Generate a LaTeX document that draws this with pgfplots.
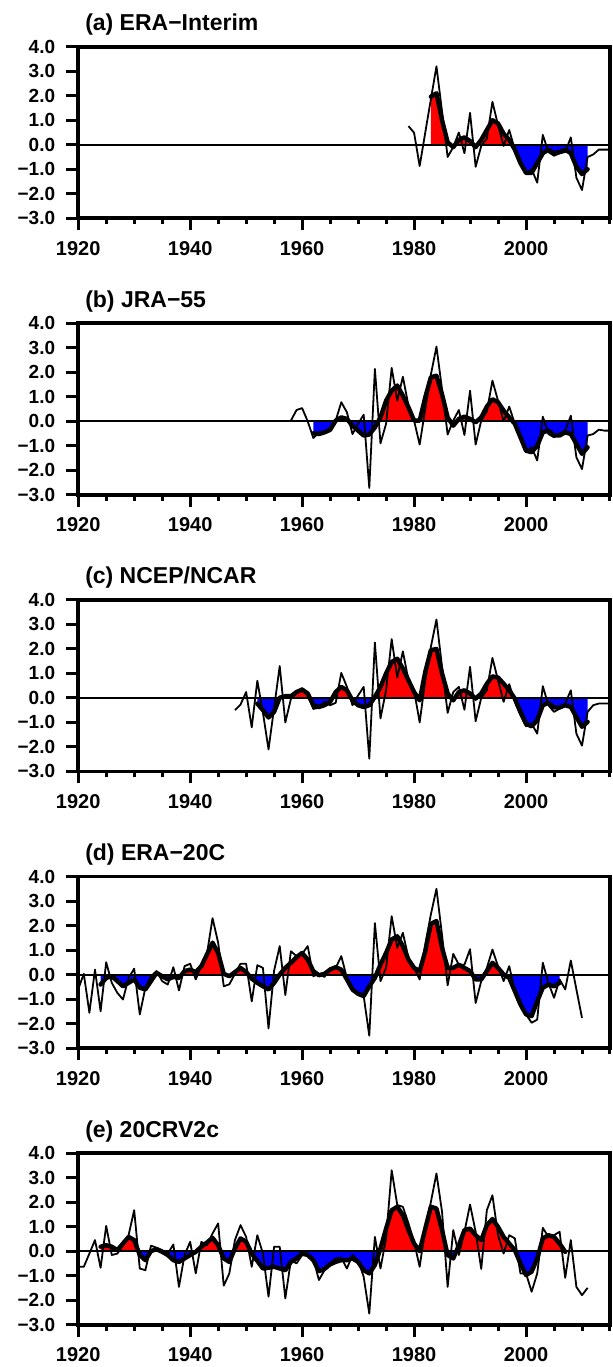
\documentclass[border=0pt]{standalone}
\usepackage{pgfplots}
\pgfplotsset{compat=1.18}
\usepackage{pgfplotstable}
\usepackage{fontspec}
\setmainfont{Liberation Sans}
\definecolor{fred}{RGB}{255,0,0}
\definecolor{fblue}{RGB}{0,0,255}

% ---------------- (a) ERA-Interim
\pgfplotstableread{
x y
1979 0.76
1980 0.49
1981 -0.87
1982 0.5
1983 1.85
1984 3.2
1985 1.35
1986 -0.5
1987 -0.1
1988 0.5
1989 -0.35
1990 1.3
1991 -0.9
1992 -0.05
1993 0.25
1994 1.75
1995 0.8
1996 -0.05
1997 0.6
1998 -0.2
1999 -0.75
2000 -1.2
2001 -1.0
2002 -1.55
2003 0.4
2004 -0.3
2005 -0.45
2006 -0.35
2007 -0.3
2008 0.3
2009 -1.35
2010 -1.85
2011 -0.5
2012 -0.4
2013 -0.2
2014 -0.2
2015 -0.2
}\thinA
\pgfplotstableread{
x y
1983 1.96
1984 2.1
1985 1.0
1986 0.1
1987 -0.1
1988 0.2
1989 0.3
1990 0.15
1991 -0.1
1992 0.2
1993 0.6
1994 1.0
1995 0.87
1996 0.45
1997 0.2
1998 -0.2
1999 -0.75
2000 -1.15
2001 -1.15
2002 -0.75
2003 -0.35
2004 -0.2
2005 -0.35
2006 -0.3
2007 -0.2
2008 -0.35
2009 -0.9
2010 -1.2
2011 -1.0
}\thickA

% ---------------- (b) JRA-55
\pgfplotstableread{
x y
1958 0.03
1959 0.46
1960 0.54
1961 0.0
1962 -0.68
1963 -0.45
1964 -0.45
1965 -0.38
1966 0.03
1967 0.78
1968 0.37
1969 -0.52
1970 -0.1
1971 0.27
1972 -2.72
1973 2.14
1974 -0.9
1975 -0.1
1976 2.18
1977 0.84
1978 1.82
1979 0.64
1980 0.03
1981 -0.95
1982 0.5
1983 1.9
1984 3.05
1985 1.3
1986 -0.54
1987 0.03
1988 0.46
1989 -0.56
1990 1.25
1991 -0.95
1992 0.03
1993 0.4
1994 1.66
1995 0.84
1996 0.0
1997 0.6
1998 -0.1
1999 -0.72
2000 -1.26
2001 -1.06
2002 -1.6
2003 0.19
2004 -0.52
2005 -0.65
2006 -0.5
2007 -0.38
2008 0.23
2009 -1.47
2010 -1.95
2011 -0.58
2012 -0.52
2013 -0.34
2014 -0.38
2015 -0.38
}\thinB
\pgfplotstableread{
x y
1962 -0.49
1963 -0.52
1964 -0.45
1965 -0.35
1966 0.03
1967 0.16
1968 0.1
1969 -0.18
1970 -0.38
1971 -0.58
1972 -0.54
1973 -0.25
1974 0.16
1975 0.84
1976 1.25
1977 1.46
1978 1.05
1979 0.57
1980 0.03
1981 0.03
1982 0.98
1983 1.8
1984 1.86
1985 1.1
1986 0.16
1987 -0.18
1988 0.1
1989 0.19
1990 0.1
1991 -0.04
1992 0.16
1993 0.6
1994 0.9
1995 0.78
1996 0.44
1997 0.16
1998 -0.1
1999 -0.65
2000 -1.2
2001 -1.26
2002 -1.0
2003 -0.45
2004 -0.38
2005 -0.58
2006 -0.58
2007 -0.45
2008 -0.52
2009 -0.92
2010 -1.33
2011 -1.06
}\thickB

% ---------------- (c) NCEP/NCAR
\pgfplotstableread{
x y
1948 -0.5
1949 -0.27
1950 0.24
1951 -1.2
1952 0.7
1953 -0.6
1954 -2.1
1955 -0.4
1956 1.3
1957 -1.0
1958 -0.04
1959 0.2
1960 0.4
1961 0.14
1962 -0.45
1963 -0.4
1964 -0.16
1965 -0.3
1966 -0.2
1967 1.02
1968 0.45
1969 -0.3
1970 0.1
1971 0.45
1972 -2.48
1973 2.26
1974 -0.84
1975 0.31
1976 2.4
1977 0.83
1978 1.9
1979 0.72
1980 0.31
1981 -1.0
1982 0.72
1983 2.08
1984 3.2
1985 1.27
1986 -0.61
1987 0.24
1988 0.45
1989 -0.48
1990 1.27
1991 -0.95
1992 0.0
1993 0.31
1994 1.63
1995 0.72
1996 -0.16
1997 0.56
1998 -0.16
1999 -0.7
2000 -1.16
2001 -1.05
2002 -1.46
2003 0.48
2004 -0.3
2005 -0.57
2006 -0.44
2007 -0.23
2008 0.31
2009 -1.46
2010 -1.95
2011 -0.57
2012 -0.3
2013 -0.23
2014 -0.23
2015 -0.23
}\thinC
\pgfplotstableread{
x y
1952 -0.23
1953 -0.5
1954 -0.8
1955 -0.57
1956 0.01
1957 0.07
1958 0.07
1959 0.24
1960 0.34
1961 0.18
1962 -0.3
1963 -0.37
1964 -0.3
1965 -0.16
1966 0.24
1967 0.45
1968 0.31
1969 -0.1
1970 -0.3
1971 -0.37
1972 -0.3
1973 0.04
1974 0.45
1975 1.0
1976 1.47
1977 1.6
1978 1.2
1979 0.72
1980 0.24
1981 -0.1
1982 1.06
1983 1.95
1984 2.0
1985 1.0
1986 0.18
1987 -0.1
1988 0.24
1989 0.31
1990 0.18
1991 -0.03
1992 0.18
1993 0.58
1994 0.88
1995 0.83
1996 0.58
1997 0.31
1998 -0.03
1999 -0.57
2000 -1.05
2001 -1.16
2002 -0.91
2003 -0.3
2004 -0.2
2005 -0.39
2006 -0.39
2007 -0.3
2008 -0.37
2009 -0.78
2010 -1.18
2011 -0.98
}\thickC

% ---------------- (d) ERA-20C
\pgfplotstableread{
x y
1920 -0.6
1921 0.03
1922 -1.56
1923 0.2
1924 -1.5
1925 0.5
1926 -0.34
1927 -0.75
1928 -1.02
1929 -0.14
1930 0.24
1931 -1.63
1932 -0.54
1933 -0.07
1934 0.14
1935 -0.27
1936 -0.41
1937 0.3
1938 -0.65
1939 0.34
1940 0.44
1941 -0.2
1942 0.37
1943 0.84
1944 2.3
1945 1.3
1946 -0.48
1947 -0.4
1948 0.03
1949 0.44
1950 0.44
1951 -1.1
1952 0.38
1953 0.27
1954 -2.2
1955 0.16
1956 1.16
1957 -0.84
1958 0.95
1959 0.75
1960 0.84
1961 1.16
1962 -0.07
1963 0.03
1964 -0.1
1965 0.27
1966 0.27
1967 0.75
1968 -0.14
1969 -0.68
1970 -0.75
1971 -0.88
1972 -2.5
1973 2.1
1974 -0.27
1975 0.27
1976 2.38
1977 1.09
1978 1.7
1979 0.68
1980 0.27
1981 -0.2
1982 1.22
1983 2.45
1984 3.5
1985 1.6
1986 -0.44
1987 0.84
1988 0.4
1989 0.4
1990 1.03
1991 -1.16
1992 -0.27
1993 0.27
1994 1.02
1995 0.34
1996 -0.27
1997 0.34
1998 -0.68
1999 -1.29
2000 -1.63
2001 -1.97
2002 -1.84
2003 0.48
2004 -0.34
2005 -0.95
2006 -0.2
2007 -0.61
2008 0.57
2009 -0.61
2010 -1.77
}\thinD
\pgfplotstableread{
x y
1924 -0.41
1925 -0.14
1926 -0.07
1927 -0.27
1928 -0.48
1929 -0.34
1930 -0.2
1931 -0.54
1932 -0.61
1933 -0.27
1934 0.07
1935 -0.07
1936 -0.2
1937 -0.1
1938 -0.14
1939 0.14
1940 0.2
1941 0.1
1942 0.34
1943 0.82
1944 1.3
1945 0.88
1946 0.03
1947 -0.07
1948 0.1
1949 0.27
1950 0.1
1951 -0.17
1952 -0.34
1953 -0.48
1954 -0.61
1955 -0.34
1956 0.0
1957 0.27
1958 0.48
1959 0.71
1960 0.88
1961 0.61
1962 0.14
1963 -0.03
1964 0.03
1965 0.2
1966 0.3
1967 0.2
1968 -0.2
1969 -0.61
1970 -0.79
1971 -0.88
1972 -0.48
1973 -0.14
1974 0.41
1975 0.88
1976 1.43
1977 1.56
1978 1.16
1979 0.61
1980 0.27
1981 0.14
1982 0.95
1983 2.07
1984 2.18
1985 1.09
1986 0.27
1987 0.27
1988 0.4
1989 0.27
1990 0.14
1991 -0.2
1992 -0.2
1993 0.14
1994 0.48
1995 0.27
1996 0.0
1997 -0.14
1998 -0.68
1999 -1.22
2000 -1.63
2001 -1.7
2002 -1.09
2003 -0.54
2004 -0.41
2005 -0.48
2006 -0.34
}\thickD

% ---------------- (e) 20CRV2c
\pgfplotstableread{
x y
1920 -0.64
1921 -0.64
1922 -0.1
1923 0.45
1924 -0.68
1925 1.03
1926 -0.16
1927 -0.1
1928 0.24
1929 0.65
1930 1.67
1931 -0.71
1932 -0.78
1933 0.22
1934 0.14
1935 0.04
1936 -0.1
1937 0.27
1938 -1.46
1939 -0.16
1940 0.38
1941 -0.91
1942 0.38
1943 0.24
1944 0.72
1945 1.13
1946 -1.41
1947 -0.91
1948 0.45
1949 1.06
1950 0.58
1951 -0.64
1952 0.65
1953 -0.1
1954 -1.86
1955 0.18
1956 0.18
1957 -1.93
1958 -0.37
1959 -0.5
1960 -0.16
1961 -0.1
1962 -0.3
1963 -1.18
1964 -0.78
1965 -0.5
1966 -0.3
1967 -0.27
1968 -0.71
1969 -0.16
1970 -0.37
1971 -1.05
1972 -2.55
1973 0.58
1974 -0.71
1975 0.52
1976 3.3
1977 1.88
1978 1.81
1979 1.13
1980 0.38
1981 -0.64
1982 0.92
1983 2.0
1984 3.17
1985 1.6
1986 -1.46
1987 0.86
1988 -0.16
1989 0.79
1990 1.9
1991 0.79
1992 -0.73
1993 1.67
1994 2.28
1995 0.65
1996 -0.1
1997 0.65
1998 0.52
1999 -0.91
2000 -0.91
2001 -1.66
2002 -0.91
2003 0.95
2004 0.58
2005 0.65
2006 0.79
2007 -1.09
2008 0.45
2009 -1.46
2010 -1.8
2011 -1.5
}\thinE
\pgfplotstableread{
x y
1924 0.18
1925 0.24
1926 0.18
1927 0.04
1928 0.31
1929 0.58
1930 0.45
1931 -0.16
1932 -0.37
1933 0.0
1934 0.08
1935 -0.03
1936 -0.16
1937 -0.37
1938 -0.44
1939 -0.3
1940 -0.16
1941 -0.03
1942 0.18
1943 0.35
1944 0.54
1945 0.24
1946 -0.3
1947 -0.44
1948 0.11
1949 0.52
1950 0.38
1951 -0.1
1952 -0.4
1953 -0.71
1954 -0.68
1955 -0.64
1956 -0.71
1957 -0.78
1958 -0.44
1959 -0.3
1960 -0.1
1961 -0.16
1962 -0.37
1963 -0.82
1964 -0.73
1965 -0.54
1966 -0.44
1967 -0.37
1968 -0.37
1969 -0.3
1970 -0.44
1971 -0.78
1972 -0.91
1973 -0.57
1974 0.11
1975 0.92
1976 1.67
1977 1.81
1978 1.47
1979 0.86
1980 0.31
1981 0.0
1982 0.92
1983 1.81
1984 1.74
1985 0.86
1986 -0.16
1987 -0.3
1988 0.24
1989 0.86
1990 0.92
1991 0.65
1992 0.45
1993 1.06
1994 1.31
1995 0.99
1996 0.58
1997 0.31
1998 0.04
1999 -0.5
2000 -0.98
2001 -0.84
2002 -0.3
2003 0.52
2004 0.65
2005 0.58
2006 0.31
2007 -0.03
}\thickE

\pgfplotsset{
  panel/.style={
    scale only axis, width=265.9pt, height=85.75pt,
    anchor=south west,
    xmin=1920, xmax=2015, ymin=-3, ymax=4,
    axis line style={line width=1.9pt},
    xtick={1920,1940,1960,1980,2000},
    xticklabels={1920,1940,1960,1980,2000},
    minor xtick={1925,1930,...,2015},
    ytick={-3,-2,-1,0,1,2,3,4},
    yticklabels={−3.0,−2.0,−1.0,0.0,1.0,2.0,3.0,4.0},
    tick align=outside, xtick pos=bottom, ytick pos=left,
    major tick length=6pt, minor tick length=3pt,
    tick style={black, line width=1.5pt},
    xticklabel style={font=\fontsize{10}{11}\selectfont\bfseries, yshift=-2pt},
    yticklabel style={font=\fontsize{9.5}{11}\selectfont\bfseries, xshift=-2pt},
  },
  thinl/.style={black, line width=0.9pt, line join=round, forget plot},
  thickl/.style={black, line width=2.2pt, line join=round, line cap=round, forget plot},
}
\newcommand{\ptitle}{\fontsize{11.5}{13}\selectfont\bfseries}

\newcommand{\panelbody}[2]{%
  \begin{scope}
    \clip (axis cs:1900,0) rectangle (axis cs:2030,6);
    \addplot[fill=fred, draw=none, forget plot] table {#2} \closedcycle;
  \end{scope}
  \begin{scope}
    \clip (axis cs:1900,-6) rectangle (axis cs:2030,0);
    \addplot[fill=fblue, draw=none, forget plot] table {#2} \closedcycle;
  \end{scope}
  \addplot[black, line width=1pt, forget plot] coordinates {(1920,0) (2015,0)};
  \addplot[thinl] table {#1};
  \addplot[thickl] table {#2};
}

\begin{document}
\begin{tikzpicture}

\begin{axis}[panel, name=pa, at={(0pt,0pt)}]
\panelbody{\thinA}{\thickA}
\end{axis}
\node[anchor=base west, font=\ptitle, xshift=0pt, yshift=8pt] at (pa.north west) {(a) ERA−Interim};

\begin{axis}[panel, name=pb, at={(0pt,-138.3pt)}]
\panelbody{\thinB}{\thickB}
\end{axis}
\node[anchor=base west, font=\ptitle, xshift=0pt, yshift=8pt] at (pb.north west) {(b) JRA−55};

\begin{axis}[panel, name=pc, at={(0pt,-276.6pt)}]
\panelbody{\thinC}{\thickC}
\end{axis}
\node[anchor=base west, font=\ptitle, xshift=0pt, yshift=8pt] at (pc.north west) {(c) NCEP/NCAR};

\begin{axis}[panel, name=pd, at={(0pt,-414.9pt)}]
\panelbody{\thinD}{\thickD}
\end{axis}
\node[anchor=base west, font=\ptitle, xshift=0pt, yshift=8pt] at (pd.north west) {(d) ERA−20C};

\begin{axis}[panel, name=pe, at={(0pt,-553.2pt)}]
\panelbody{\thinE}{\thickE}
\end{axis}
\node[anchor=base west, font=\ptitle, xshift=0pt, yshift=8pt] at (pe.north west) {(e) 20CRV2c};

\pgfresetboundingbox
\useasboundingbox (-39.1pt,-574.4pt) rectangle (266.9pt,109.1pt);
\end{tikzpicture}
\end{document}
